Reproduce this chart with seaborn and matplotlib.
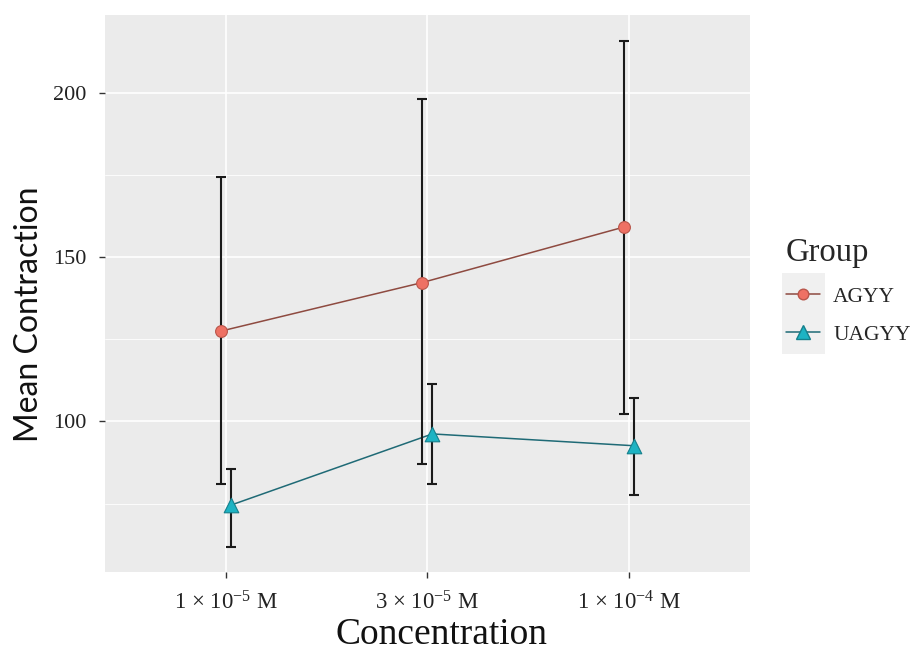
import numpy as np
import pandas as pd
import matplotlib
matplotlib.use("Agg")
import matplotlib.pyplot as plt
from matplotlib.lines import Line2D
from matplotlib.patches import Rectangle
from matplotlib.legend_handler import HandlerLine2D
import seaborn as sns

# ---- data ----
concentrations = [r"1 × 10$^{\mathrm{-5}}$ M", r"3 × 10$^{\mathrm{-5}}$ M",
                  r"1 × 10$^{\mathrm{-4}}$ M"]
groups = ["AGYY", "UAGYY"]
agyy_mean = [127.5, 142.3, 159.2]
agyy_low = [80.8, 86.9, 102.4]
agyy_high = [174.5, 198.2, 216.0]
uagyy_mean = [74.5, 96.2, 92.6]
uagyy_low = [61.8, 80.8, 77.7]
uagyy_high = [85.4, 111.3, 107.1]

df = pd.DataFrame({
    "Concentration": concentrations * 2,
    "Group": ["AGYY"] * 3 + ["UAGYY"] * 3,
    "Mean": agyy_mean + uagyy_mean,
    "Low": agyy_low + uagyy_low,
    "High": agyy_high + uagyy_high,
})

sns.set_theme(style="darkgrid", rc={
    "axes.facecolor": "#EBEBEB",
    "grid.color": "white",
    "figure.facecolor": "white",
})
serif = ["Liberation Serif", "DejaVu Serif"]
plt.rcParams["font.family"] = serif
plt.rcParams["mathtext.fontset"] = "custom"
plt.rcParams["mathtext.rm"] = "Liberation Serif"
plt.rcParams["mathtext.it"] = "Liberation Serif:italic"
plt.rcParams["mathtext.bf"] = "Liberation Serif:bold"

marker_colors = {"AGYY": "#EE7164", "UAGYY": "#1DB3C3"}
edge_colors = {"AGYY": "#B9564B", "UAGYY": "#15808C"}
line_colors = {"AGYY": "#8E4A40", "UAGYY": "#1F6A76"}
markers = {"AGYY": "o", "UAGYY": "^"}
msizes = {"AGYY": 8.5, "UAGYY": 10.5}
offsets = {"AGYY": -0.025, "UAGYY": 0.025}

fig = plt.figure(figsize=(9.12, 6.52), dpi=100)
ax = fig.add_axes([0.115, 0.123, 0.707, 0.854])

# lines
sns.pointplot(data=df, x="Concentration", y="Mean", hue="Group",
              order=concentrations, hue_order=groups, dodge=True,
              palette=line_colors, markers="", errorbar=None,
              linewidth=1.1, ax=ax, legend=False)

# error bars
for g in groups:
    sub = df[df["Group"] == g].set_index("Concentration").loc[concentrations]
    xs = np.arange(len(concentrations)) + offsets[g]
    ax.errorbar(xs, sub["Mean"],
                yerr=[sub["Mean"] - sub["Low"], sub["High"] - sub["Mean"]],
                fmt="none", ecolor="#1a1a1a", elinewidth=1.5, capsize=3.8,
                capthick=1.5, zorder=3)

# markers
for g in groups:
    sub = df[df["Group"] == g].set_index("Concentration").loc[concentrations]
    xs = np.arange(len(concentrations)) + offsets[g]
    sns.scatterplot(x=xs, y=sub["Mean"].values, marker=markers[g],
                    s=msizes[g] ** 2, color=marker_colors[g],
                    edgecolor=edge_colors[g], linewidth=0.8, zorder=4,
                    ax=ax, legend=False)

ax.set_xlim(-0.6, 2.6)
ax.set_ylim(54.2, 223.8)
ax.set_yticks([100, 150, 200])
ax.set_yticks([75, 125, 175], minor=True)
ax.grid(True, which="major", color="white", linewidth=1.2)
ax.grid(True, which="minor", axis="y", color="white", linewidth=0.6)
ax.set_xticks(range(len(concentrations)))
ax.set_xticklabels(concentrations)
for s in ax.spines.values():
    s.set_visible(False)
ax.tick_params(axis="both", which="major", length=4, width=1, color="#333333",
               labelsize=16, labelcolor="#222222", bottom=True, left=True)
ax.tick_params(axis="y", which="major", pad=9)
ax.tick_params(axis="x", which="major", pad=10)
ax.tick_params(axis="both", which="minor", length=0)
for lab in ax.get_xticklabels() + ax.get_yticklabels():
    lab.set_fontfamily(serif)
    lab.set_fontsize(16.5 if lab in ax.get_xticklabels() else 16)

ax.set_xlabel("Concentration", fontsize=27, family=serif, color="#111111")
ax.set_ylabel("Mean Contraction", fontsize=23, family=["Lato", "DejaVu Sans"],
              color="#111111")
ax.xaxis.set_label_coords(0.522, -0.082)
ax.yaxis.set_label_coords(-0.094, 0.463)


class KeyHandler(HandlerLine2D):
    def create_artists(self, legend, orig_handle, xdescent, ydescent, width,
                       height, fontsize, trans):
        size = max(width, height) + 6
        rect = Rectangle((-xdescent + (width - size) / 2, -ydescent + (height - size) / 2),
                         size, size, facecolor="#F0F0F0", edgecolor="none",
                         transform=trans)
        arts = super().create_artists(legend, orig_handle, xdescent, ydescent,
                                      width, height, fontsize, trans)
        return [rect] + arts


handles = [Line2D([], [], color=line_colors[g], marker=markers[g],
                  markerfacecolor=marker_colors[g], markeredgecolor=edge_colors[g],
                  markersize=msizes[g] * 0.9, linewidth=1.1) for g in groups]
leg = fig.legend(handles, groups, title="Group", loc="upper left",
                 bbox_to_anchor=(0.857, 0.642), frameon=False,
                 prop={"family": serif, "size": 15.5},
                 title_fontproperties={"family": serif, "size": 23.5},
                 handlelength=1.6, handletextpad=0.6, labelspacing=0.85,
                 borderaxespad=0, borderpad=0.2,
                 handler_map={Line2D: KeyHandler()})
leg._legend_box.align = "left"

fig.savefig("out.png", dpi=100)
